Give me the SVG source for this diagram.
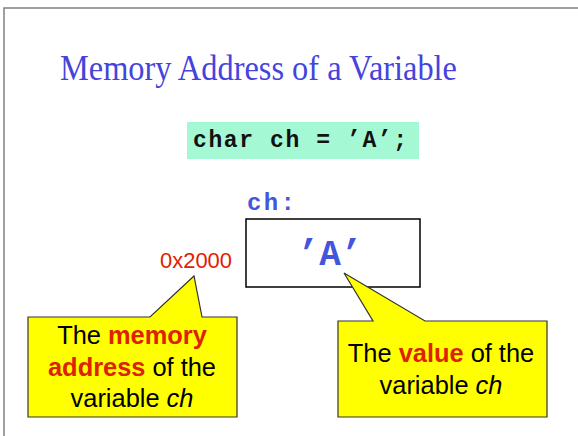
<svg xmlns="http://www.w3.org/2000/svg" width="578" height="436" viewBox="0 0 578 436">
<style>
.title{font-family:"Liberation Serif","Times New Roman",serif;font-size:36px;fill:#4444dd}
.mono{font-family:"Liberation Mono","Courier New",monospace;font-weight:bold}
.sans{font-family:"Liberation Sans",Arial,sans-serif}
.callout{fill:#ffff00;stroke:#333333;stroke-width:1.2}
.ct{font-family:"Liberation Sans",Arial,sans-serif;font-size:25.4px;fill:#000;text-anchor:middle}
.hl{fill:#dd2200;font-weight:bold}
</style>
<rect width="578" height="436" fill="#ffffff"/>
<path d="M4,436 V8 H578" fill="none" stroke="#808080" stroke-width="1.5"/>
<g id="title"><text class="title" x="60" y="80" textLength="397" lengthAdjust="spacingAndGlyphs">Memory Address of a Variable</text></g>
<g id="code">
<rect x="187" y="122" width="232" height="37" fill="#a4f8d4"/>
<text class="mono" x="193" y="147" font-size="23" fill="#111" textLength="214" lengthAdjust="spacing">char ch = ’A’;</text>
</g>
<g id="var-label"><text class="mono" x="247" y="210" font-size="24" fill="#4455dd" textLength="48" lengthAdjust="spacing">ch:</text></g>
<g id="var-box">
<rect x="246" y="219" width="174" height="68" fill="#ffffff" stroke="#000" stroke-width="1.5"/>
<text class="mono" x="330" y="265" font-size="36" fill="#4455dd" text-anchor="middle">’A’</text>
</g>
<g id="address"><text class="sans" x="160" y="268" font-size="22" fill="#dd2200" textLength="72" lengthAdjust="spacingAndGlyphs">0x2000</text></g>
<g id="connectors">
<path class="callout" d="M28,317 H150 L194,276 L202,317 H237 V417 H28 Z"/>
<path class="callout" d="M338,321 H373 L344,273 L425,321 H547 V417 H338 Z"/>
</g>
<g id="callout-address">
<text class="ct" x="132" y="344">The <tspan class="hl">memory</tspan></text>
<text class="ct" x="132" y="376"><tspan class="hl">address</tspan> of the</text>
<text class="ct" x="132" y="407">variable <tspan font-style="italic">ch</tspan></text>
</g>
<g id="callout-value">
<text class="ct" x="441" y="362">The <tspan class="hl">value</tspan> of the</text>
<text class="ct" x="441" y="394">variable <tspan font-style="italic">ch</tspan></text>
</g>
</svg>
